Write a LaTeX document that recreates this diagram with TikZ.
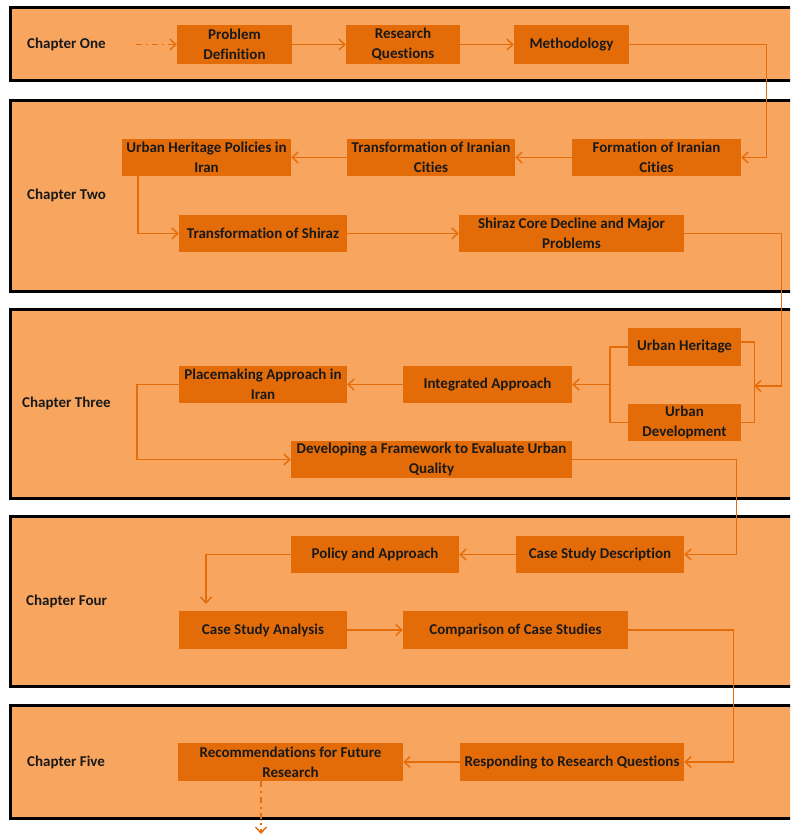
\documentclass[tikz,border=0pt]{standalone}
\usepackage{fontspec}
\setmainfont{Carlito}[Ligatures=CommonOff]
\usetikzlibrary{arrows.meta}
\definecolor{panelfill}{HTML}{F7A55F}
\definecolor{boxfill}{HTML}{E36C09}
\definecolor{lineclr}{HTML}{E46C0A}
\tikzset{
  panel/.style={draw=black, line width=3pt, fill=panelfill},
  box/.style={fill=boxfill, inner sep=0pt, align=center, text=black!90,
    font=\bfseries\fontsize{15}{20}\selectfont},
  lab/.style={anchor=west, inner sep=0pt, text=black!90, font=\bfseries\fontsize{15}{18}\selectfont},
  link/.style={draw=lineclr, line width=1.4pt},
  conn/.style={link, -{Straight Barb[length=6pt,width=11pt,line width=1.4pt]}},
  dconn/.style={conn, dash pattern=on 6pt off 4pt on 2pt off 4pt}
}
\begin{document}
\begin{tikzpicture}[x=1pt,y=-1pt]
\useasboundingbox (0,0) rectangle (790,837);
\clip (0,0) rectangle (790,837);
% panels
\draw[panel] (10.5,7.5) rectangle (800,81);
\draw[panel] (10.5,101) rectangle (800,291);
\draw[panel] (10.5,309.5) rectangle (800,498);
\draw[panel] (10.5,516.5) rectangle (800,686);
\draw[panel] (10.5,705.5) rectangle (800,818);
% chapter labels
\node[lab] (c1) at (27,44.5) {Chapter One};
\node[lab] (c2) at (27,195) {Chapter Two};
\node[lab] (c3) at (22,403) {Chapter Three};
\node[lab] (c4) at (26,601) {Chapter Four};
\node[lab] (c5) at (27,762) {Chapter Five};
% chapter one
\node[box, minimum width=115pt, minimum height=39pt] (pd) at (234.5,44.5) {Problem\\Definition};
\node[box, minimum width=114pt, minimum height=39pt] (rq) at (403,44.5) {Research\\Questions};
\node[box, minimum width=115pt, minimum height=39pt] (meth) at (571.5,44.5) {Methodology};
% chapter two
\node[box, minimum width=169pt, minimum height=37pt] (form) at (656.5,157.5) {Formation of Iranian\\Cities};
\node[box, minimum width=168pt, minimum height=37pt] (tic) at (431,157.5) {Transformation of Iranian\\Cities};
\node[box, minimum width=169pt, minimum height=37pt] (uhp) at (206.5,157.5) {Urban Heritage Policies in\\Iran};
\node[box, minimum width=168pt, minimum height=37pt] (tos) at (263,233.5) {Transformation of Shiraz};
\node[box, minimum width=225pt, minimum height=37pt] (scd) at (571.5,233.5) {Shiraz Core Decline and Major\\Problems};
% chapter three
\node[box, minimum width=113pt, minimum height=38pt] (uh) at (684.5,347) {Urban Heritage};
\node[box, minimum width=113pt, minimum height=37pt] (ud) at (684.5,422.5) {Urban\\Development};
\node[box, minimum width=169pt, minimum height=37pt] (ia) at (487.5,384.5) {Integrated Approach};
\node[box, minimum width=168pt, minimum height=37pt] (pa) at (263,384.5) {Placemaking Approach in\\Iran};
\node[box, minimum width=281pt, minimum height=37pt] (dev) at (431.5,459.5) {Developing a Framework to Evaluate Urban\\Quality};
% chapter four
\node[box, minimum width=168pt, minimum height=37pt] (csd) at (600,554.5) {Case Study Description};
\node[box, minimum width=168pt, minimum height=37pt] (pol) at (375,554.5) {Policy and Approach};
\node[box, minimum width=168pt, minimum height=38pt] (csa) at (263,630) {Case Study Analysis};
\node[box, minimum width=225pt, minimum height=38pt] (cmp) at (515.5,630) {Comparison of Case Studies};
% chapter five
\node[box, minimum width=224pt, minimum height=38pt] (resp) at (572,762) {Responding to Research Questions};
\node[box, minimum width=225pt, minimum height=38pt] (rec) at (290.5,762) {Recommendations for Future\\Research};
% helper coordinates
\coordinate (start) at (136,44.5);
\coordinate (bin) at (754,386);
\coordinate (bout) at (610,384.5);
\coordinate (csaIn) at (206,604);
\coordinate (endc) at (261,834);
% connectors
\draw[dconn] (start) -- (pd.west);
\draw[conn] (pd.east) -- (rq.west);
\draw[conn] (rq.east) -- (meth.west);
\draw[conn] (meth.east) -- ++(137,0) |- (form.east);
\draw[conn] (form.west) -- (tic.east);
\draw[conn] (tic.west) -- (uhp.east);
\draw[conn] ([xshift=16pt]uhp.south west) |- (tos.west);
\draw[conn] (tos.east) -- (scd.west);
\draw[conn] (scd.east) -- ++(97,0) |- (bin);
\draw[link] ([yshift=5pt]uh.east) -- ++(13,0) |- (ud.east);
\draw[link] (uh.west) -- ++(-18,0) |- (ud.west);
\draw[conn] (bout) -- (ia.east);
\draw[conn] (ia.west) -- (pa.east);
\draw[conn] (pa.west) -- ++(-42,0) |- (dev.west);
\draw[conn] (dev.east) -- ++(164,0) |- (csd.east);
\draw[conn] (csd.west) -- (pol.east);
\draw[conn] (pol.west) -| (csaIn);
\draw[conn] (csa.east) -- (cmp.west);
\draw[conn] (cmp.east) -- ++(105,0) |- (resp.east);
\draw[conn] (resp.west) -- (rec.east);
\draw[dconn] (rec.south -| endc) -- (endc);
\end{tikzpicture}
\end{document}
